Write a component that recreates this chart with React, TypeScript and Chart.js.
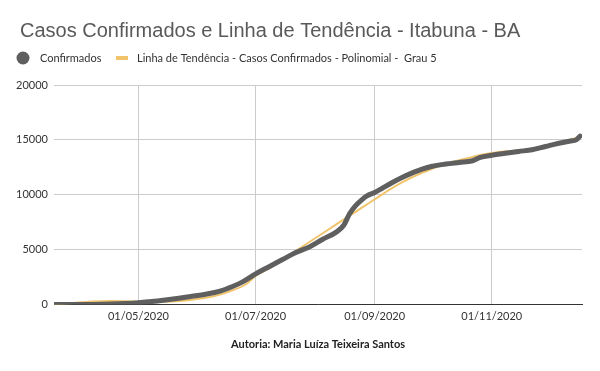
import React, { useEffect, useRef } from "react";
import { Chart, registerables } from "chart.js";

Chart.register(...registerables);

// ---- data ----
const confirmedDates = [
  "2020-03-18", "2020-03-28", "2020-04-07", "2020-04-17", "2020-04-24",
  "2020-05-01", "2020-05-08", "2020-05-15", "2020-05-22", "2020-05-29",
  "2020-06-05", "2020-06-12", "2020-06-19", "2020-06-24", "2020-07-01",
  "2020-07-08", "2020-07-15", "2020-07-22", "2020-07-29", "2020-08-05",
  "2020-08-12", "2020-08-16", "2020-08-19", "2020-08-22", "2020-08-25",
  "2020-08-28", "2020-09-01", "2020-09-05", "2020-09-10", "2020-09-15",
  "2020-09-20", "2020-09-25", "2020-10-01", "2020-10-08", "2020-10-15",
  "2020-10-22", "2020-10-26", "2020-11-01", "2020-11-08", "2020-11-15",
  "2020-11-22", "2020-11-29", "2020-12-06", "2020-12-12", "2020-12-15",
  "2020-12-17",
];
const confirmedValues = [
  0, 5, 20, 60, 110,
  180, 280, 420, 580, 760,
  950, 1200, 1650, 2050, 2800,
  3450, 4100, 4750, 5250, 5950,
  6600, 7250, 8300, 9000, 9500,
  9900, 10200, 10600, 11100, 11550,
  11950, 12300, 12600, 12800, 12950,
  13100, 13400, 13600, 13780, 13950,
  14100, 14400, 14700, 14900, 15000,
  15350,
];

const trendDates = [
  "2020-03-18", "2020-03-28", "2020-04-07", "2020-04-17", "2020-04-24",
  "2020-05-01", "2020-05-08", "2020-05-15", "2020-05-22", "2020-05-29",
  "2020-06-05", "2020-06-12", "2020-06-19", "2020-06-26", "2020-07-01",
  "2020-07-08", "2020-07-15", "2020-07-22", "2020-07-29", "2020-08-05",
  "2020-08-12", "2020-08-19", "2020-08-26", "2020-09-02", "2020-09-09",
  "2020-09-16", "2020-09-23", "2020-09-30", "2020-10-07", "2020-10-14",
  "2020-10-21", "2020-10-28", "2020-11-04", "2020-11-11", "2020-11-18",
  "2020-11-25", "2020-12-02", "2020-12-09", "2020-12-17",
];
const trendValues = [
  0, 150, 280, 320, 300,
  260, 240, 260, 330, 450,
  620, 900, 1300, 1850, 2600,
  3300, 4100, 4900, 5700, 6500,
  7300, 8100, 8900, 9700, 10500,
  11200, 11800, 12300, 12750, 13100,
  13400, 13700, 13880, 13980, 14100,
  14300, 14550, 14850, 15300,
];

const xTickDates = ["2020-05-01", "2020-07-01", "2020-09-01", "2020-11-01"];
const xTickLabels = ["01/05/2020", "01/07/2020", "01/09/2020", "01/11/2020"];
const xRange = ["2020-03-18", "2020-12-18"];
const yTickValues = [0, 5000, 10000, 15000, 20000];

const titleText = "Casos Confirmados e Linha de Tendência - Itabuna - BA";
const confirmedLabel = "Confirmados";
const trendLabel = "Linha de Tendência - Casos Confirmados - Polinomial -  Grau 5";
const xAxisTitle = "Autoria: Maria Luíza Teixeira Santos";

const GREY = "#5f5f5f";
const ORANGE = "#f1c46c";
const FONT = "Lato, 'Liberation Sans', sans-serif";

function dayOf(d: string): number {
  const [y, m, dd] = d.split("-").map(Number);
  return (Date.UTC(y, m - 1, dd) - Date.UTC(2020, 0, 1)) / 86400000;
}

// shift the title a little right and draw the legend under it
const sheetPlugin = {
  id: "sheetLegend",
  afterLayout(chart: any) {
    const tb = chart.titleBlock;
    if (tb) {
      tb.left += 6;
      tb.right += 6;
    }
  },
  afterDraw(chart: any) {
    const ctx = chart.ctx as CanvasRenderingContext2D;
    const y = 58;
    ctx.save();
    ctx.font = `11px ${FONT}`;
    ctx.textBaseline = "middle";
    ctx.beginPath();
    ctx.fillStyle = GREY;
    ctx.arc(23, y, 6.5, 0, Math.PI * 2);
    ctx.fill();
    ctx.fillStyle = "#333333";
    ctx.fillText(confirmedLabel, 40, y);
    ctx.fillStyle = ORANGE;
    ctx.fillRect(116, y - 2, 12, 4);
    ctx.fillStyle = "#333333";
    ctx.fillText(trendLabel, 137, y);
    ctx.restore();
  },
};

export default function App() {
  const ref = useRef<HTMLCanvasElement | null>(null);

  useEffect(() => {
    if (!ref.current) return;
    const tickDays = xTickDates.map(dayOf);
    const chart = new Chart(ref.current, {
      type: "line",
      data: {
        datasets: [
          {
            label: confirmedLabel,
            data: confirmedDates.map((d, i) => ({ x: dayOf(d), y: confirmedValues[i] })),
            borderColor: GREY,
            backgroundColor: GREY,
            borderWidth: 5,
            borderCapStyle: "round",
            borderJoinStyle: "round",
            pointRadius: 0,
            cubicInterpolationMode: "monotone",
            order: 0,
          },
          {
            label: trendLabel,
            data: trendDates.map((d, i) => ({ x: dayOf(d), y: trendValues[i] })),
            borderColor: ORANGE,
            backgroundColor: ORANGE,
            borderWidth: 2,
            pointRadius: 0,
            cubicInterpolationMode: "monotone",
            order: 1,
          },
        ],
      },
      options: {
        animation: false,
        responsive: false,
        parsing: false as any,
        layout: { padding: { left: 14, right: 18, top: 0, bottom: 16 } },
        plugins: {
          tooltip: { enabled: false },
          legend: { display: false },
          title: {
            display: true,
            text: titleText,
            align: "start",
            color: "#595959",
            font: { family: "'Liberation Sans', Arial, sans-serif", size: 20, weight: "normal" },
            padding: { top: 19.5, bottom: 41.5 },
          },
        },
        scales: {
          x: {
            type: "linear",
            min: dayOf(xRange[0]),
            max: dayOf(xRange[1]),
            afterBuildTicks: (axis: any) => {
              axis.ticks = tickDays.map((v) => ({ value: v }));
            },
            ticks: {
              color: "#333333",
              font: { family: FONT, size: 11 },
              padding: 5,
              maxRotation: 0,
              autoSkip: false,
              callback: (v: any) => {
                const i = tickDays.indexOf(Number(v));
                return i >= 0 ? xTickLabels[i] : "";
              },
            },
            grid: { color: "#cccccc", drawTicks: false },
            border: { display: true, color: "#333333", width: 1 },
            title: {
              display: true,
              text: xAxisTitle,
              color: "#222222",
              font: { family: FONT, size: 11, weight: "bold" },
              padding: { top: 10, bottom: 4 },
            },
          },
          y: {
            type: "linear",
            min: 0,
            max: 20000,
            afterBuildTicks: (axis: any) => {
              axis.ticks = yTickValues.map((v) => ({ value: v }));
            },
            afterFit: (axis: any) => {
              axis.width = 40;
            },
            ticks: {
              color: "#333333",
              font: { family: FONT, size: 11 },
              padding: 6,
              callback: (v: any) => String(v),
            },
            grid: { color: "#cccccc", drawTicks: false },
            border: { display: false },
          },
        },
      },
      plugins: [sheetPlugin],
    });
    return () => chart.destroy();
  }, []);

  return (
    <div style={{ position: "fixed", left: 0, top: 0, width: 600, height: 371, background: "#ffffff" }}>
      <canvas ref={ref} width={600} height={371} style={{ width: 600, height: 371 }} />
    </div>
  );
}
